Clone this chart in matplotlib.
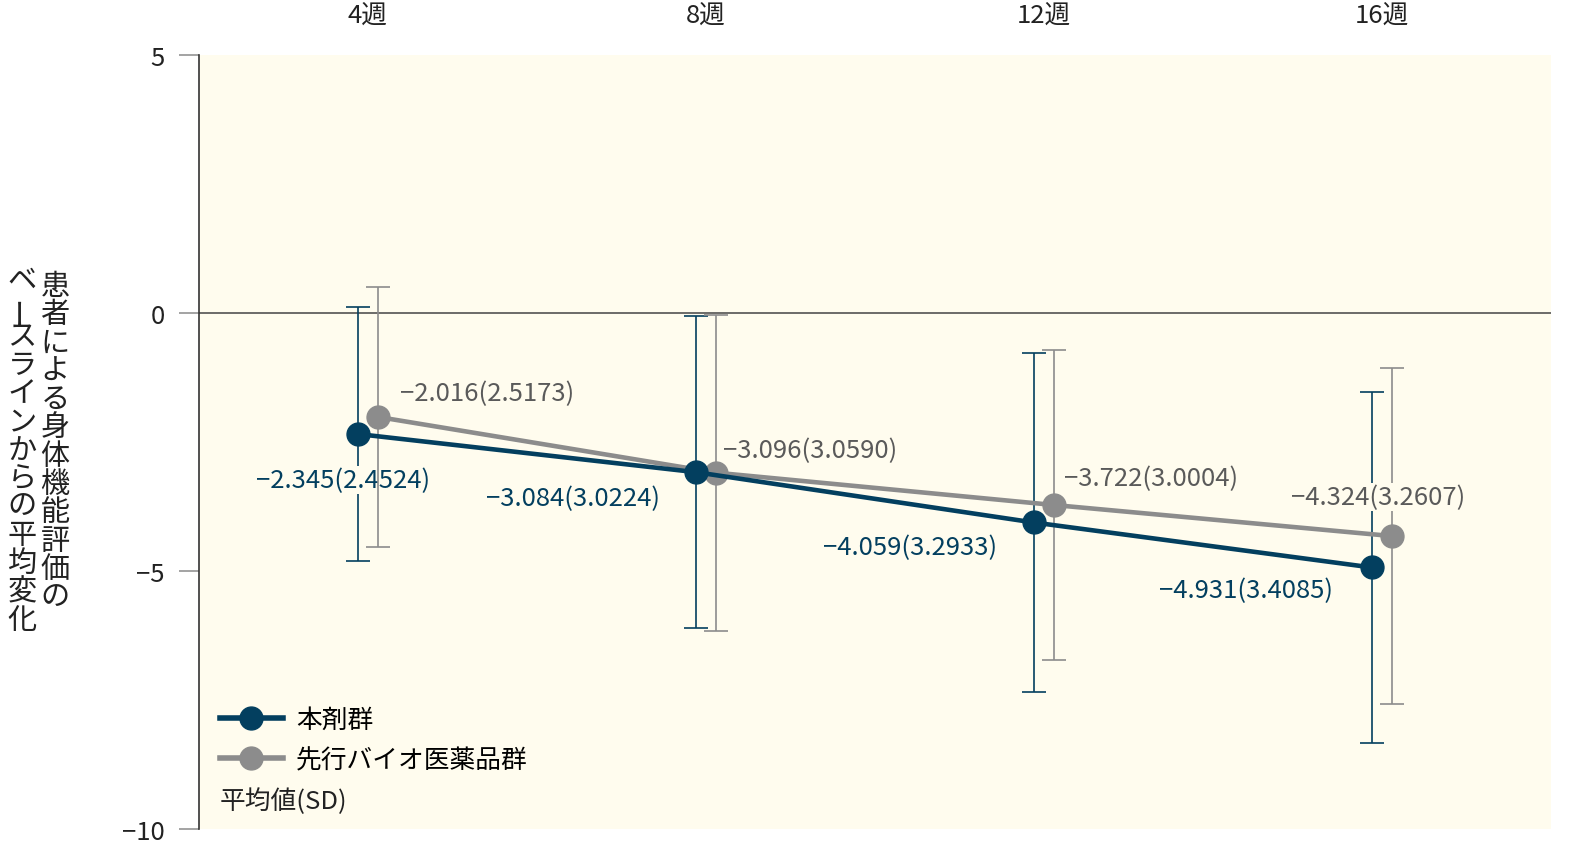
import numpy as np
import matplotlib
matplotlib.use("Agg")
import matplotlib.pyplot as plt
from matplotlib.lines import Line2D

plt.rcParams["font.family"] = ["Noto Sans CJK JP", "DejaVu Sans"]

weeks = ["4週", "8週", "12週", "16週"]
drug_mean = [-2.345, -3.084, -4.059, -4.931]
drug_sd = [2.4524, 3.0224, 3.2933, 3.4085]
ref_mean = [-2.016, -3.096, -3.722, -4.324]
ref_sd = [2.5173, 3.0590, 3.0004, 3.2607]
drug_name = "本剤群"
ref_name = "先行バイオ医薬品群"
note = "平均値(SD)"
ylabel_cols = ["ベースラインからの平均変化", "患者による身体機能評価の"]

navy = "#033f5f"
gray = "#8c8c8c"
bg = "#fffcee"
fs = 18.5

fig = plt.figure(figsize=(15.84, 8.54), dpi=100)
ax = fig.add_axes([199 / 1584, 24 / 854, 1352 / 1584, 774 / 854])
ax.set_facecolor(bg)

x = np.arange(len(weeks))
off = 0.031

# error bars (navy below labels, gray above navy labels)
ax.errorbar(x - off, drug_mean, yerr=drug_sd, fmt="none", ecolor=navy,
            elinewidth=1.2, capsize=8.5, capthick=1.2, zorder=2)
ax.errorbar(x + off, ref_mean, yerr=ref_sd, fmt="none", ecolor=gray,
            elinewidth=1.2, capsize=8.5, capthick=1.2, zorder=4)

ax.plot(x + off, ref_mean, color=gray, lw=3.3, marker="o", ms=16.5, zorder=6)
ax.plot(x - off, drug_mean, color=navy, lw=3.3, marker="o", ms=16.5, zorder=7)

drug_offsets = [(-14, -46), (-123, -26), (-123, -25), (-126, -23)]
ref_offsets = [(109, 24), (94, 23), (97, 27), (-14, 39)]
for i in range(len(weeks)):
    ax.annotate(f"−{abs(drug_mean[i]):.3f}({drug_sd[i]:.4f})",
                (x[i] - off, drug_mean[i]), xytext=drug_offsets[i],
                textcoords="offset pixels", ha="center", va="center",
                fontsize=fs, color=navy, zorder=3,
                bbox=dict(facecolor=bg, edgecolor="none", pad=1))
    ax.annotate(f"−{abs(ref_mean[i]):.3f}({ref_sd[i]:.4f})",
                (x[i] + off, ref_mean[i]), xytext=ref_offsets[i],
                textcoords="offset pixels", ha="center", va="center",
                fontsize=fs, color="#5a5a5a", zorder=5,
                bbox=dict(facecolor=bg, edgecolor="none", pad=1))

ax.axhline(0, color="#444444", lw=1.1, zorder=1)

ax.set_xlim(-0.5, 3.5)
ax.set_ylim(-10, 5)
ax.set_yticks([-10, -5, 0, 5])
ax.set_xticks(x)
ax.set_xticklabels(weeks)
ax.xaxis.tick_top()
ax.tick_params(axis="x", length=0, pad=19.5, labelsize=fs, labelcolor="#222222")
ax.tick_params(axis="y", length=14.5, width=1.1, color="#8a8a8a", pad=10,
               labelsize=fs, labelcolor="#222222")
for s in ["top", "right", "bottom"]:
    ax.spines[s].set_visible(False)
ax.spines["left"].set_color("#333333")
ax.spines["left"].set_linewidth(1.2)

handles = [Line2D([], [], color=navy, lw=4, marker="o", ms=16.5),
           Line2D([], [], color=gray, lw=4, marker="o", ms=16.5)]
ax.legend(handles, [drug_name, ref_name], loc="upper left",
          bbox_to_anchor=(0.0155, 0.158), frameon=False, fontsize=fs,
          handlelength=2.45, handletextpad=0.5, labelspacing=0.56,
          borderpad=0, borderaxespad=0)
ax.text(0.0155, 0.037, note, transform=ax.transAxes, fontsize=fs,
        color="#222222", va="center", ha="left")

# vertical y-axis title, two columns
col_x = [22, 55]
for cx, col in zip(col_x, ylabel_cols):
    step = 28.3
    y0 = 281 if cx == 22 else 287
    for k, ch in enumerate(col):
        rot = 90 if ch == "ー" else 0
        fig.text(cx / 1584, 1 - (y0 + k * step) / 854, ch, fontsize=21,
                 ha="center", va="center", rotation=rot, color="#222222")

fig.savefig("out.png", dpi=100)
